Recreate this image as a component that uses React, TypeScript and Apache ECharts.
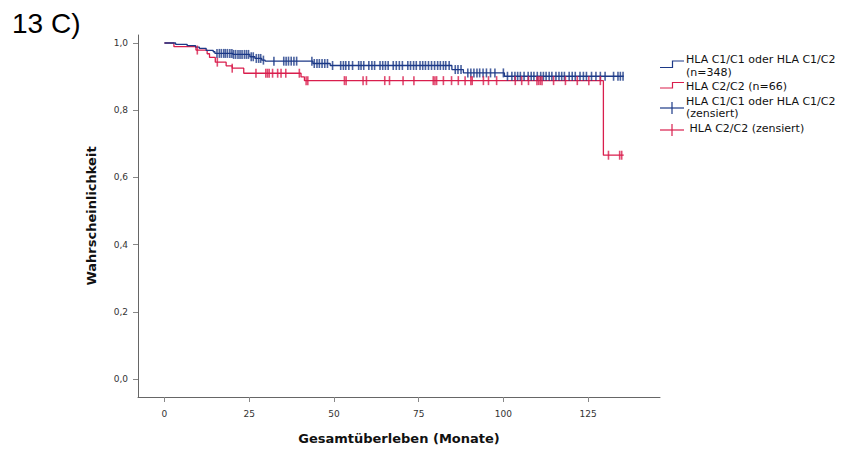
import React, { useEffect, useRef } from "react";
import * as echarts from "echarts";

// Kaplan-Meier steps (months, survival)
const blueTimes = [0, 3.3, 6.7, 9.2, 10.3, 12.3, 14.4, 14.9, 20.2, 25.2, 26.7, 28.7, 29.7, 43.8, 48.9, 84.8, 88.2, 100.3];
const blueSurv = [1.0, 0.996, 0.992, 0.988, 0.984, 0.978, 0.974, 0.969, 0.966, 0.959, 0.954, 0.949, 0.946, 0.939, 0.933, 0.921, 0.911, 0.901];
const blueEnd = 135.5;

const redTimes = [0, 2.8, 9.3, 12.6, 13.3, 15.0, 18.2, 20.0, 23.4, 40.3, 41.3, 129.5];
const redSurv = [1.0, 0.989, 0.979, 0.968, 0.957, 0.943, 0.932, 0.925, 0.91, 0.899, 0.888, 0.666];
const redEnd = 135.5;

// censored observations (months)
const blueCensored = [
  15.5, 16.2, 16.8, 17.5, 18.0, 18.6, 19.3, 19.9, 20.4, 21.0, 21.7, 22.3, 22.9, 23.6, 24.2, 24.8,
  25.6, 26.2, 27.1, 27.8, 28.4, 29.2, 32.3, 35.2, 35.9, 36.6, 37.4, 38.2, 39.0, 43.5, 44.2,
  45.0, 45.7, 46.5, 47.3, 48.1, 49.6, 52.0, 52.8, 53.5, 54.4, 55.5, 57.3, 58.0, 58.8, 60.3, 61.2,
  62.0, 63.6, 64.4, 65.2, 66.0, 67.5, 68.4, 69.3, 70.2, 71.8, 72.6, 73.5, 74.3, 75.4, 76.2, 77.0,
  77.9, 78.8, 79.7, 80.6, 81.4, 82.3, 83.0, 84.0, 85.8, 86.6, 87.5, 89.5, 90.4, 91.3, 92.2, 93.0,
  94.0, 95.0, 96.2, 97.5, 100.0, 101.2, 102.5, 103.4, 104.2, 105.0, 106.1, 107.3, 108.2, 109.0,
  110.0, 111.0, 111.8, 112.6, 113.5, 114.3, 115.5, 116.4, 117.2, 118.0, 119.4, 120.3, 121.2, 122.6,
  123.6, 124.5, 126.0, 127.3, 128.6, 130.0, 132.5, 133.8, 134.5, 135.3,
];
const redCensored = [
  9.7, 15.6, 20.0, 27.0, 29.9, 30.4, 30.9, 31.9, 33.4, 34.4, 35.8, 39.8, 41.8, 42.3, 53.1, 53.6,
  58.6, 59.6, 65.0, 66.4, 70.4, 73.6, 79.3, 79.8, 80.3, 82.3, 84.7, 86.7, 88.7, 90.4, 90.8, 94.1,
  95.6, 98.0, 103.5, 105.4, 107.4, 109.9, 110.4, 110.9, 111.4, 114.8, 118.3, 121.8, 125.2, 128.6,
  131.0, 134.3, 134.9,
];

const xTicks = [0, 25, 50, 75, 100, 125];
const yTicks = [0, 0.2, 0.4, 0.6, 0.8, 1.0];

const BLUE = "#1c3987";
const RED = "#d91e4d";

function stepLine(times: number[], surv: number[], end: number) {
  const d = times.map((t, i) => [t, surv[i]]);
  d.push([end, surv[surv.length - 1]]);
  return d;
}
function survAt(times: number[], surv: number[], t: number) {
  let s = surv[0];
  for (let i = 0; i < times.length; i++) if (times[i] <= t) s = surv[i];
  return s;
}

export default function App() {
  const ref = useRef<HTMLDivElement>(null);
  useEffect(() => {
    const chart = echarts.init(ref.current!, null, { renderer: "svg" });
    const labelFont = { fontFamily: "DejaVu Sans", fontSize: 9, color: "#333" };
    const legendText = (text: string, x: number, y: number) => ({
      type: "text",
      style: { text, x, y, fill: "#111", fontSize: 11, fontFamily: "DejaVu Sans", verticalAlign: "middle" },
    });
    chart.setOption({
      animation: false,
      title: {
        text: "13 C)",
        left: 7,
        top: 4,
        textStyle: { fontFamily: "Liberation Sans", fontSize: 28, fontWeight: "normal", color: "#000" },
      },
      grid: { left: 138, right: 194, top: 35, bottom: 55 },
      xAxis: {
        type: "value",
        min: -7.8,
        max: 146.2,
        name: "Gesamtüberleben (Monate)",
        nameLocation: "middle",
        nameGap: 35,
        nameTextStyle: { fontFamily: "DejaVu Sans", fontWeight: "bold", fontSize: 13, color: "#111" },
        axisLine: { onZero: false, lineStyle: { color: "#666", width: 1 } },
        axisTick: { customValues: xTicks, length: 5, lineStyle: { color: "#888" } },
        axisLabel: { customValues: xTicks, margin: 12, ...labelFont },
        splitLine: { show: false },
      },
      yAxis: {
        type: "value",
        min: -0.0536,
        max: 1.0238,
        name: "Wahrscheinlichkeit",
        nameLocation: "middle",
        nameGap: 40,
        nameTextStyle: { fontFamily: "DejaVu Sans", fontWeight: "bold", fontSize: 13, color: "#111" },
        axisLine: { show: true, onZero: false, lineStyle: { color: "#666", width: 1 } },
        axisTick: { show: true, customValues: yTicks, length: 5, lineStyle: { color: "#888" } },
        axisLabel: {
          customValues: yTicks,
          margin: 10,
          ...labelFont,
          formatter: (v: number) => v.toFixed(1).replace(".", ","),
        },
        splitLine: { show: false },
      },
      series: [
        {
          type: "line",
          step: "end",
          data: stepLine(blueTimes, blueSurv, blueEnd),
          showSymbol: false,
          lineStyle: { color: BLUE, width: 1.3 },
          z: 3,
        },
        {
          type: "line",
          step: "end",
          data: stepLine(redTimes, redSurv, redEnd),
          showSymbol: false,
          lineStyle: { color: RED, width: 1.3 },
          z: 2,
        },
        {
          type: "scatter",
          data: blueCensored.map((t) => [t, survAt(blueTimes, blueSurv, t)]),
          symbol: "rect",
          symbolSize: [1.6, 9],
          itemStyle: { color: BLUE },
          z: 4,
        },
        {
          type: "scatter",
          data: redCensored.map((t) => [t, survAt(redTimes, redSurv, t)]),
          symbol: "rect",
          symbolSize: [1.6, 9],
          itemStyle: { color: RED },
          z: 4,
        },
      ],
      graphic: [
        { type: "polyline", shape: { points: [[660, 67.5], [672.5, 67.5], [672.5, 61], [684, 61]] }, style: { stroke: BLUE, lineWidth: 1.2, fill: null } },
        legendText("HLA C1/C1 oder HLA C1/C2", 686, 59),
        legendText("(n=348)", 686, 72),
        { type: "polyline", shape: { points: [[660, 88], [672.5, 88], [672.5, 82.5], [684, 82.5]] }, style: { stroke: RED, lineWidth: 1.2, fill: null } },
        legendText("HLA C2/C2 (n=66)", 686, 86),
        { type: "line", shape: { x1: 660, y1: 108, x2: 684, y2: 108 }, style: { stroke: BLUE, lineWidth: 1.2 } },
        { type: "line", shape: { x1: 672, y1: 102, x2: 672, y2: 114 }, style: { stroke: BLUE, lineWidth: 1.2 } },
        legendText("HLA C1/C1 oder HLA C1/C2", 686, 101),
        legendText("(zensiert)", 686, 113.5),
        { type: "line", shape: { x1: 660, y1: 130, x2: 684, y2: 130 }, style: { stroke: RED, lineWidth: 1.2 } },
        { type: "line", shape: { x1: 672, y1: 124, x2: 672, y2: 136 }, style: { stroke: RED, lineWidth: 1.2 } },
        legendText(" HLA C2/C2 (zensiert)", 686, 128.5),
      ],
    });
    return () => chart.dispose();
  }, []);
  return <div ref={ref} style={{ position: "absolute", left: 0, top: 0, width: 854, height: 452 }} />;
}
